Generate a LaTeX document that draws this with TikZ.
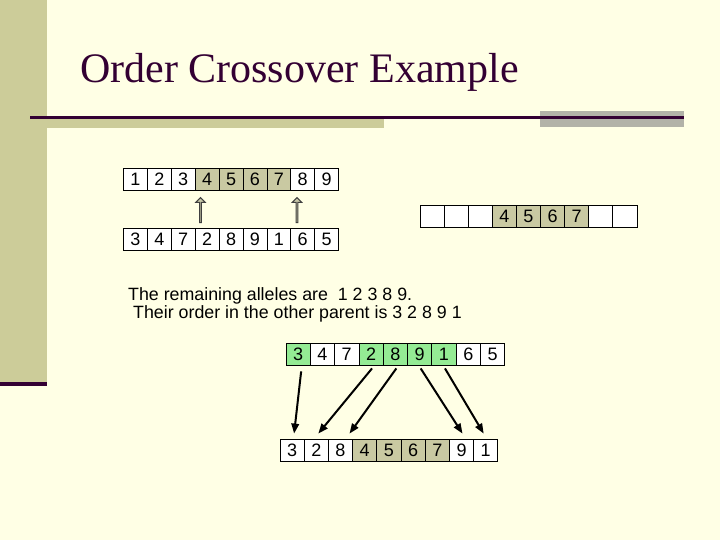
\documentclass[tikz,border=0pt]{standalone}
\usepackage{fontspec}
\setmainfont{Liberation Serif}
\newfontfamily\arialfont{Liberation Sans}
\usetikzlibrary{shapes.arrows,arrows.meta}
\definecolor{cream}{HTML}{FFFFE5}
\definecolor{olive}{HTML}{CCCC99}
\definecolor{cellolive}{HTML}{C9C9A2}
\definecolor{darkplum}{HTML}{330033}
\definecolor{barcgray}{HTML}{B2B2A8}
\definecolor{lgreen}{HTML}{94EB94}
\definecolor{arrowgray}{HTML}{C8C8A8}
\begin{document}
\begin{tikzpicture}[x=1pt,y=-1pt,
  cell/.style={draw=black, line width=0.8pt, fill=white, inner sep=0pt,
    minimum height=22pt, font=\arialfont\fontsize{18}{18}\selectfont},
  uparrow/.style={single arrow, draw=black!75, fill=arrowgray, line width=1pt,
    minimum height=25pt, minimum width=9.5pt, single arrow head extend=2.4pt,
    shape border rotate=90, inner sep=0pt},
  movearrow/.style={line width=2pt, -{Triangle[length=10pt,width=7.5pt]}},
  bodytext/.style={anchor=base west, inner sep=0pt, font=\arialfont\fontsize{17.8}{20}\selectfont}]
\useasboundingbox (0,0) rectangle (720,540);
\fill[cream] (0,0) rectangle (720,540);
% sidebar
\fill[olive] (0,0) rectangle (47,382);
\fill[darkplum] (0,382) rectangle (47,386);
% title rules
\fill[olive] (47,119) rectangle (384,128);
\fill[barcgray] (540,111) rectangle (684,127);
\fill[darkplum] (30,116) rectangle (684,119);
% title
\node[anchor=base west, inner sep=0pt, text=darkplum,
  font=\fontsize{42}{42}\selectfont] (title) at (80,83) {Order Crossover Example};
% row A: parent 1
\foreach \v/\f [count=\i] in {1/white,2/white,3/white,4/cellolive,5/cellolive,6/cellolive,7/cellolive,8/white,9/white}
  \node[cell, fill=\f, minimum width=23.9pt] (a\i) at ({123.5+23.9*(\i-0.5)},179.5) {\v};
% row B: parent 2
\foreach \v [count=\i] in {3,4,7,2,8,9,1,6,5}
  \node[cell, minimum width=23.9pt] (b\i) at ({123.5+23.9*(\i-0.5)},239) {\v};
% row C: offspring with copied segment
\foreach \v/\f [count=\i] in {{}/white,{}/white,{}/white,4/cellolive,5/cellolive,6/cellolive,7/cellolive,{}/white,{}/white}
  \node[cell, fill=\f, minimum width=24.1pt] (c\i) at ({420+24.1*(\i-0.5)},216) {\v};
% cut-point arrows
\node[uparrow] (cut1) at (200.5,210.5) {};
\node[uparrow] (cut2) at (297,210.5) {};
% explanation
\node[bodytext] (line1) at (128,300) {The remaining alleles are\ \ 1 2 3 8 9.};
\node[bodytext] (line2) at (133,318.5) {Their order in the other parent is 3 2 8 9 1};
% row D: parent 2 with highlighted alleles
\foreach \v/\f [count=\i] in {3/lgreen,4/white,7/white,2/lgreen,8/lgreen,9/lgreen,1/lgreen,6/white,5/white}
  \node[cell, fill=\f, minimum width=24.3pt] (d\i) at ({286+24.3*(\i-0.5)},354) {\v};
% row E: child
\foreach \v/\f [count=\i] in {3/white,2/white,8/white,4/cellolive,5/cellolive,6/cellolive,7/cellolive,9/white,1/white}
  \node[cell, fill=\f, minimum width=24.2pt] (e\i) at ({280+24.2*(\i-0.5)},450) {\v};
% moves
\draw[movearrow] ([xshift=3pt,yshift=-6pt]d1.south) -- ([xshift=2pt,yshift=5pt]e1.north);
\draw[movearrow] ([xshift=1pt,yshift=-3pt]d4.south) -- ([xshift=2pt,yshift=5pt]e2.north);
\draw[movearrow] ([xshift=1pt,yshift=-3pt]d5.south) -- ([xshift=9pt,yshift=5pt]e3.north);
\draw[movearrow] ([xshift=1pt,yshift=-3pt]d6.south) -- ([xshift=1pt,yshift=5pt]e8.north);
\draw[movearrow] ([xshift=1pt,yshift=-3pt]d7.south) -- ([xshift=-2pt,yshift=5pt]e9.north);
\end{tikzpicture}
\end{document}
